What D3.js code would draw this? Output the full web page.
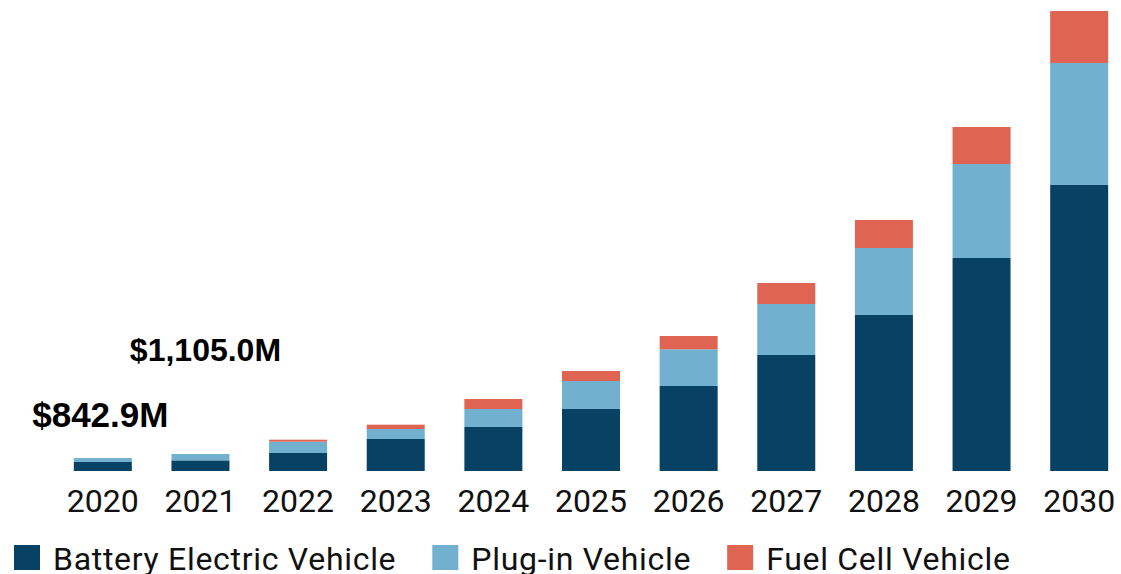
<!DOCTYPE html>
<html>
<head>
<meta charset="utf-8">
<script src="https://cdn.jsdelivr.net/npm/d3@7"></script>
<style>
  body { margin: 0; background: #fff; }
  svg { display: block; }
</style>
</head>
<body>
<svg id="chart" width="1121" height="574"></svg>
<script>
// values in $M
var years = ["2020", "2021", "2022", "2023", "2024", "2025", "2026", "2027", "2028", "2029", "2030"];
var batteryElectric = [585, 690, 1170, 2080, 2860, 4030, 5525, 7540, 10140, 13845, 18590];
var plugIn = [258, 415, 735, 650, 1170, 1820, 2385, 3315, 4355, 6110, 7930];
var fuelCell = [0, 0, 130, 280, 650, 650, 865, 1365, 1820, 2405, 3380];
var seriesNames = ["Battery Electric Vehicle", "Plug-in Vehicle", "Fuel Cell Vehicle"];
var seriesColors = ["#074264", "#71b0ce", "#df6552"];
var calloutYears = ["2020", "2021"];
var calloutLabels = ["$842.9M", "$1,105.0M"];

var svg = d3.select("#chart");
var baseY = 471;

var rows = years.map(function (y, i) {
    return { year: y, bev: batteryElectric[i], phev: plugIn[i], fcv: fuelCell[i] };
});
var stack = d3.stack().keys(["bev", "phev", "fcv"]);
var layers = stack(rows);

var x = d3.scaleBand()
    .domain(years)
    .range([54, 1128])
    .paddingInner(0.406)
    .paddingOuter(0.203);

var y = d3.scaleLinear()
    .domain([0, 30000])
    .range([baseY, baseY - 30000 / 65]);

svg.append("g")
    .selectAll("g")
    .data(layers)
    .join("g")
    .attr("fill", function (d, i) { return seriesColors[i]; })
    .selectAll("rect")
    .data(function (d) { return d; })
    .join("rect")
    .attr("x", function (d) { return x(d.data.year); })
    .attr("width", x.bandwidth())
    .attr("y", function (d) { return y(d[1]); })
    .attr("height", function (d) { return y(d[0]) - y(d[1]); });

// year labels
var xAxis = d3.axisBottom(x).tickSize(0).tickPadding(0);
var axisG = svg.append("g")
    .attr("transform", "translate(0," + baseY + ")")
    .call(xAxis);
axisG.select(".domain").remove();
axisG.selectAll("text")
    .attr("dy", null)
    .attr("y", 41)
    .attr("fill", "#111")
    .style("font-family", "Roboto, 'Open Sans', sans-serif")
    .style("font-size", "32px");

// callouts above the first two bars
var calloutSizes = [35, 32];
var calloutLift = [31, 93];
var calloutShift = [-2.5, 5];
calloutYears.forEach(function (yr, i) {
    var idx = years.indexOf(yr);
    var top = batteryElectric[idx] + plugIn[idx] + fuelCell[idx];
    svg.append("text")
        .attr("x", x(yr) + x.bandwidth() / 2 + calloutShift[i])
        .attr("y", y(top) - calloutLift[i])
        .attr("text-anchor", "middle")
        .attr("fill", "#000")
        .style("font-family", "'Liberation Sans', Arial, sans-serif")
        .style("font-weight", "bold")
        .style("font-size", calloutSizes[i] + "px")
        .text(calloutLabels[i]);
});

// legend (cut off at the bottom edge, as in the original)
var legend = svg.append("g");
var lx = 14;
seriesNames.forEach(function (name, i) {
    legend.append("rect")
        .attr("x", lx)
        .attr("y", 545)
        .attr("width", 26)
        .attr("height", 25)
        .attr("fill", seriesColors[i]);
    var t = legend.append("text")
        .attr("x", lx + 39)
        .attr("y", 570)
        .attr("fill", "#111")
        .style("font-family", "Roboto, 'Open Sans', sans-serif")
        .style("font-size", "32px")
        .style("letter-spacing", "0.7px")
        .text(name);
    lx = lx + 39 + t.node().getComputedTextLength() + 36;
});
</script>
</body>
</html>
